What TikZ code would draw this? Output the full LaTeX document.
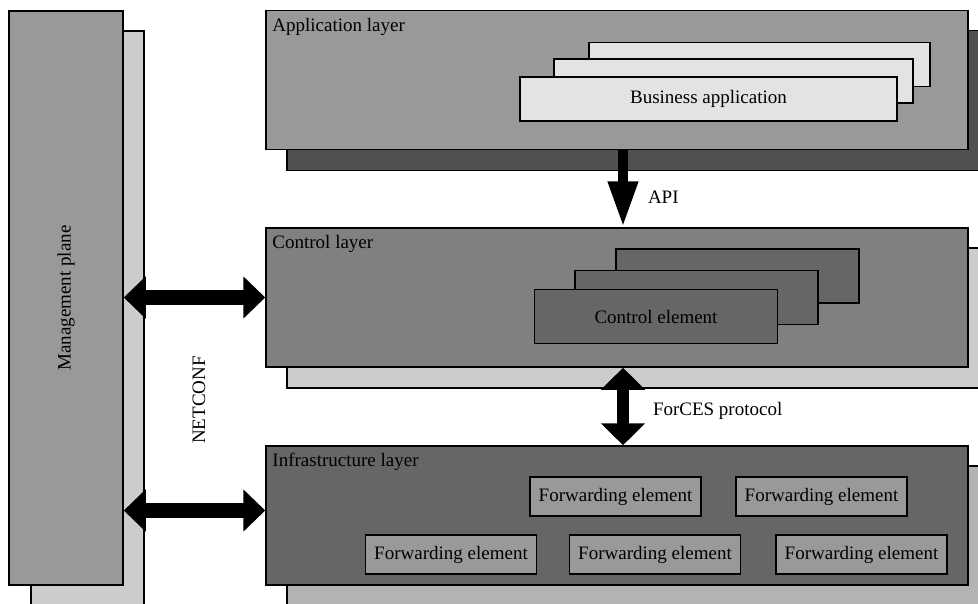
\documentclass[tikz,border=0pt]{standalone}
\usepackage{fontspec}
\setmainfont{Liberation Serif}
\usetikzlibrary{arrows.meta,positioning}
\definecolor{clrPale}{RGB}{204,204,204}
\definecolor{clrLight}{RGB}{227,227,227}
\definecolor{clrMid}{RGB}{153,153,153}
\definecolor{clrCtrl}{RGB}{128,128,128}
\definecolor{clrDark}{RGB}{102,102,102}
\definecolor{clrDeep}{RGB}{80,80,80}
\definecolor{clrBack}{RGB}{179,179,179}
\tikzset{
  plate/.style={rectangle,draw=black,line width=1.5pt,inner sep=0pt},
  layer/.style={plate,minimum width=702pt,minimum height=139pt},
  backplate/.style={plate,minimum width=713pt,minimum height=140pt},
  bizbox/.style={plate,fill=clrLight,minimum height=44pt},
  ctrlbox/.style={plate,fill=clrDark,minimum width=243pt,minimum height=54pt},
  fwdbox/.style={plate,fill=clrMid,minimum width=171pt,minimum height=39pt},
  title/.style={anchor=north west,inner sep=0pt},
  tag/.style={inner sep=0pt},
  apiarrow/.style={-{Triangle[length=46pt,width=28pt]},line width=10pt},
  protoarrow/.style={{Triangle[length=22pt,width=43pt]}-{Triangle[length=22pt,width=43pt]},line width=12pt},
  confarrow/.style={{Triangle[length=22pt,width=41pt]}-{Triangle[length=22pt,width=41pt]},line width=15pt}
}

\begin{document}
\begin{tikzpicture}[x=1pt,y=-1pt,font=\fontsize{19}{23}\selectfont]
  \useasboundingbox (0,0) rectangle (978,603);
  \clip (0,0) rectangle (978,603);

  % management plane
  \node[plate,fill=clrPale,minimum width=113pt,minimum height=600pt] (mgmtback) at (87.5,331) {};
  \node[plate,fill=clrMid,minimum width=114pt,minimum height=574pt] (mgmt) at (66,298) {};
  \node[tag,rotate=90] (mgmtname) at (mgmt) {Management plane};

  % application layer
  \node[backplate,fill=clrDeep] (appback) at (643.5,100.5) {};
  \node[layer,fill=clrMid] (app) at (617,80) {};
  \node[title] (apptitle) at ([xshift=7pt,yshift=-8pt]app.north west) {Application layer};
  \node[bizbox,minimum width=341pt] (bizc) at (759.5,64.5) {};
  \node[bizbox,minimum width=359pt] (bizb) at (733.5,81) {};
  \node[bizbox,minimum width=377pt] (biza) at (708.5,99) {Business application};

  % control layer
  \node[backplate,fill=clrPale] (ctrlback) at (643.5,318) {};
  \node[layer,fill=clrCtrl] (ctrl) at (617,297.5) {};
  \node[title] (ctrltitle) at ([xshift=7pt,yshift=-8pt]ctrl.north west) {Control layer};
  \node[ctrlbox] (cec) at (737.5,276) {};
  \node[ctrlbox] (ceb) at (696.5,297.5) {};
  \node[ctrlbox] (cea) at (656,316.5) {Control element};

  % infrastructure layer
  \node[backplate,fill=clrBack,minimum height=160pt] (infraback) at (643.5,546) {};
  \node[layer,fill=clrDark] (infra) at (617,515.5) {};
  \node[title] (infratitle) at ([xshift=7pt,yshift=-8pt]infra.north west) {Infrastructure layer};
  \node[fwdbox] (fwda) at (615.5,496.5) {Forwarding element};
  \node[fwdbox] (fwdb) at (821.5,496.5) {Forwarding element};
  \node[fwdbox] (fwdc) at (451,554.5) {Forwarding element};
  \node[fwdbox] (fwdd) at (655,554.5) {Forwarding element};
  \node[fwdbox] (fwde) at (861.5,554.5) {Forwarding element};

  % interfaces
  \draw[apiarrow] ([xshift=6pt]app.south) -- node[tag,right=20pt,yshift=-8pt]{API} ([xshift=6pt]ctrl.north);
  \draw[protoarrow] ([xshift=6pt]ctrl.south) -- node[tag,right=24pt,yshift=-4pt]{ForCES protocol} ([xshift=6pt]infra.north);
  \draw[confarrow] (mgmt.east |- ctrl.west) -- (ctrl.west);
  \draw[confarrow] ([yshift=5pt]mgmt.east |- infra.west) -- ([yshift=5pt]infra.west);
  \node[tag,rotate=90] (netconf) at (199,400) {NETCONF};
\end{tikzpicture}
\end{document}
